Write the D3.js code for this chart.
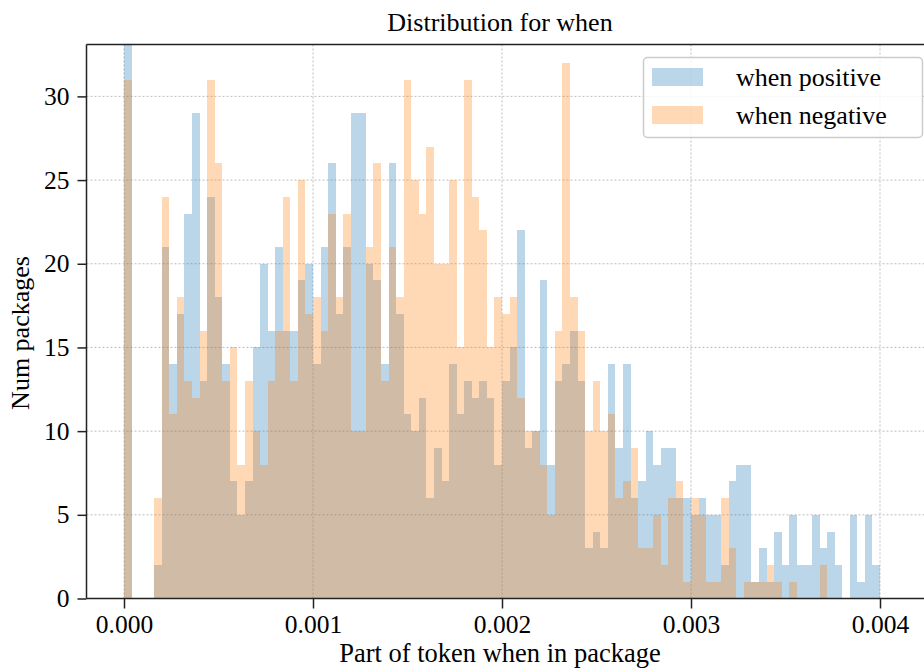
<!DOCTYPE html>
<html>
<head>
<meta charset="utf-8">
<script src="https://cdn.jsdelivr.net/npm/d3@7"></script>
<style>
body {margin:0; background:#fff;}
text {font-family:"Liberation Serif", "DejaVu Serif", serif; fill:#000;}
</style>
</head>
<body>
<div id="chart1"></div>
<script>

// histogram counts per bin (100 bins from 0 to 0.004)
var whenPositive = [36,0,0,0,2,21,14,17,23,29, 13,24,18,14,7,5,7,15,20,16,
	21,16,16,19,20,14,21,26,17,21, 29,29,20,19,14,26,17,11,10,12,
	6,9,7,14,11,13,12,13,12,8, 13,15,22,9,10,19,8,13,14,16,
	13,3,4,3,14,9,14,6,7,10, 8,9,9,6,6,5,6,5,5,2,
	7,8,8,1,3,1,4,2,5,2, 2,5,3,4,2,0,5,1,5,2];

var whenNegative = [31,0,0,0,6,24,11,18,13,12, 16,31,26,13,15,8,13,10,8,13,
	16,24,13,25,17,18,16,23,18,23, 10,10,21,26,13,21,18,31,25,23,
	27,20,20,25,15,31,24,22,15,18, 17,18,12,10,10,8,5,16,32,18,
	16,10,13,10,11,6,7,9,3,3, 5,2,6,7,1,6,5,1,1,6,
	3,0,1,1,1,2,1,0,1,0, 0,0,2,0,0,0,0,0,0,0];

var seriesNames = ['when positive','when negative'];
var seriesColors = ['#1f77b4','#ff7f0e'];

var xTicks = [0, 0.001, 0.002, 0.003, 0.004],
	xTickLabels = ['0.000','0.001','0.002','0.003','0.004'];
var yTicks = [0,5,10,15,20,25,30];

var binWidth = 0.00004;

var width = 924, height = 668;
var plot = {left:86.5, top:44.5, bottom:598.5, right:940};

var x = d3.scaleLinear().domain([0,0.004]).range([124,880]);
var y = d3.scaleLinear().domain([0,33.1]).range([plot.bottom, plot.top]);

var svg = d3.select('#chart1').append('svg')
	.attr('width',width)
	.attr('height',height);

svg.append('defs').append('clipPath')
	.attr('id','clip')
	.append('rect')
		.attr('x',plot.left)
		.attr('y',plot.top)
		.attr('width',plot.right-plot.left)
		.attr('height',plot.bottom-plot.top);

//---grid---
svg.append('g').selectAll('line.gy')
	.data(yTicks)
	.enter().append('line')
		.attr('x1',plot.left).attr('x2',width)
		.attr('y1',function(d){return y(d);})
		.attr('y2',function(d){return y(d);})
		.style('stroke','#bdbdbd')
		.style('stroke-width',1)
		.style('stroke-dasharray','2,2');

svg.append('g').selectAll('line.gx')
	.data(xTicks)
	.enter().append('line')
		.attr('x1',function(d){return x(d);})
		.attr('x2',function(d){return x(d);})
		.attr('y1',plot.top).attr('y2',plot.bottom)
		.style('stroke','#bdbdbd')
		.style('stroke-width',1)
		.style('stroke-dasharray','2,2');

//---bars---
var bars = svg.append('g').attr('clip-path','url(#clip)');
[whenPositive, whenNegative].forEach(function(vals,k){
	bars.append('g').selectAll('rect')
		.data(vals)
		.enter().append('rect')
			.attr('x',function(d,i){return x(i*binWidth);})
			.attr('width',function(d,i){return x((i+1)*binWidth)-x(i*binWidth);})
			.attr('y',function(d){return y(d);})
			.attr('height',function(d){return y(0)-y(d);})
			.style('fill',seriesColors[k])
			.style('fill-opacity',0.3)
			.attr('shape-rendering','crispEdges');
});

//---axes---
var xAxis = d3.axisBottom(x).tickValues(xTicks)
	.tickFormat(function(d,i){return xTickLabels[i];})
	.tickSize(10).tickPadding(6);
var yAxis = d3.axisLeft(y).tickValues(yTicks)
	.tickSize(9).tickPadding(8);

svg.append('g')
	.attr('transform','translate(0,'+plot.bottom+')')
	.call(xAxis)
	.call(function(g){
		g.select('.domain').remove();
		g.selectAll('line').style('stroke','#222').style('stroke-width',1.5);
		g.selectAll('text').style('font-size','25.5px').style('font-family','Liberation Serif').attr('fill','#000');
	});

svg.append('g')
	.attr('transform','translate('+plot.left+',0)')
	.call(yAxis)
	.call(function(g){
		g.select('.domain').remove();
		g.selectAll('line').style('stroke','#222').style('stroke-width',1.5);
		g.selectAll('text').style('font-size','25.5px').style('font-family','Liberation Serif').attr('fill','#000');
	});

// spines
svg.append('line')
	.attr('x1',plot.left).attr('x2',width)
	.attr('y1',plot.bottom).attr('y2',plot.bottom)
	.style('stroke','#222').style('stroke-width',1.5);
svg.append('line')
	.attr('x1',plot.left).attr('x2',width)
	.attr('y1',plot.top).attr('y2',plot.top)
	.style('stroke','#222').style('stroke-width',1.5);
svg.append('line')
	.attr('x1',plot.left).attr('x2',plot.left)
	.attr('y1',plot.top).attr('y2',plot.bottom)
	.style('stroke','#222').style('stroke-width',1.5);

//---labels---
svg.append('text')
	.attr('x',500).attr('y',31)
	.attr('text-anchor','middle')
	.style('font-size','26px')
	.text('Distribution for when');

svg.append('text')
	.attr('x',500).attr('y',662)
	.attr('text-anchor','middle')
	.style('font-size','26.5px')
	.text('Part of token when in package');

svg.append('text')
	.attr('transform','translate(29,333) rotate(-90)')
	.attr('text-anchor','middle')
	.style('font-size','26px')
	.text('Num packages');

//---legend---
var legend = svg.append('g');
legend.append('rect')
	.attr('x',643.5).attr('y',57.5)
	.attr('width',279).attr('height',80)
	.attr('rx',4)
	.style('fill','#fff').style('fill-opacity',0.8)
	.style('stroke','#cccccc').style('stroke-width',1.5);

var items = legend.selectAll('g.item')
	.data(seriesNames)
	.enter().append('g')
		.attr('transform',function(d,i){return 'translate(0,'+(77+i*38)+')';});
items.append('rect')
	.attr('x',652).attr('y',-9)
	.attr('width',51).attr('height',18)
	.style('fill',function(d,i){return seriesColors[i];})
	.style('fill-opacity',0.3);
items.append('text')
	.attr('x',736).attr('y',0)
	.attr('dy','0.35em')
	.style('font-size','26px')
	.text(function(d){return d;});

</script>
</body>
</html>
